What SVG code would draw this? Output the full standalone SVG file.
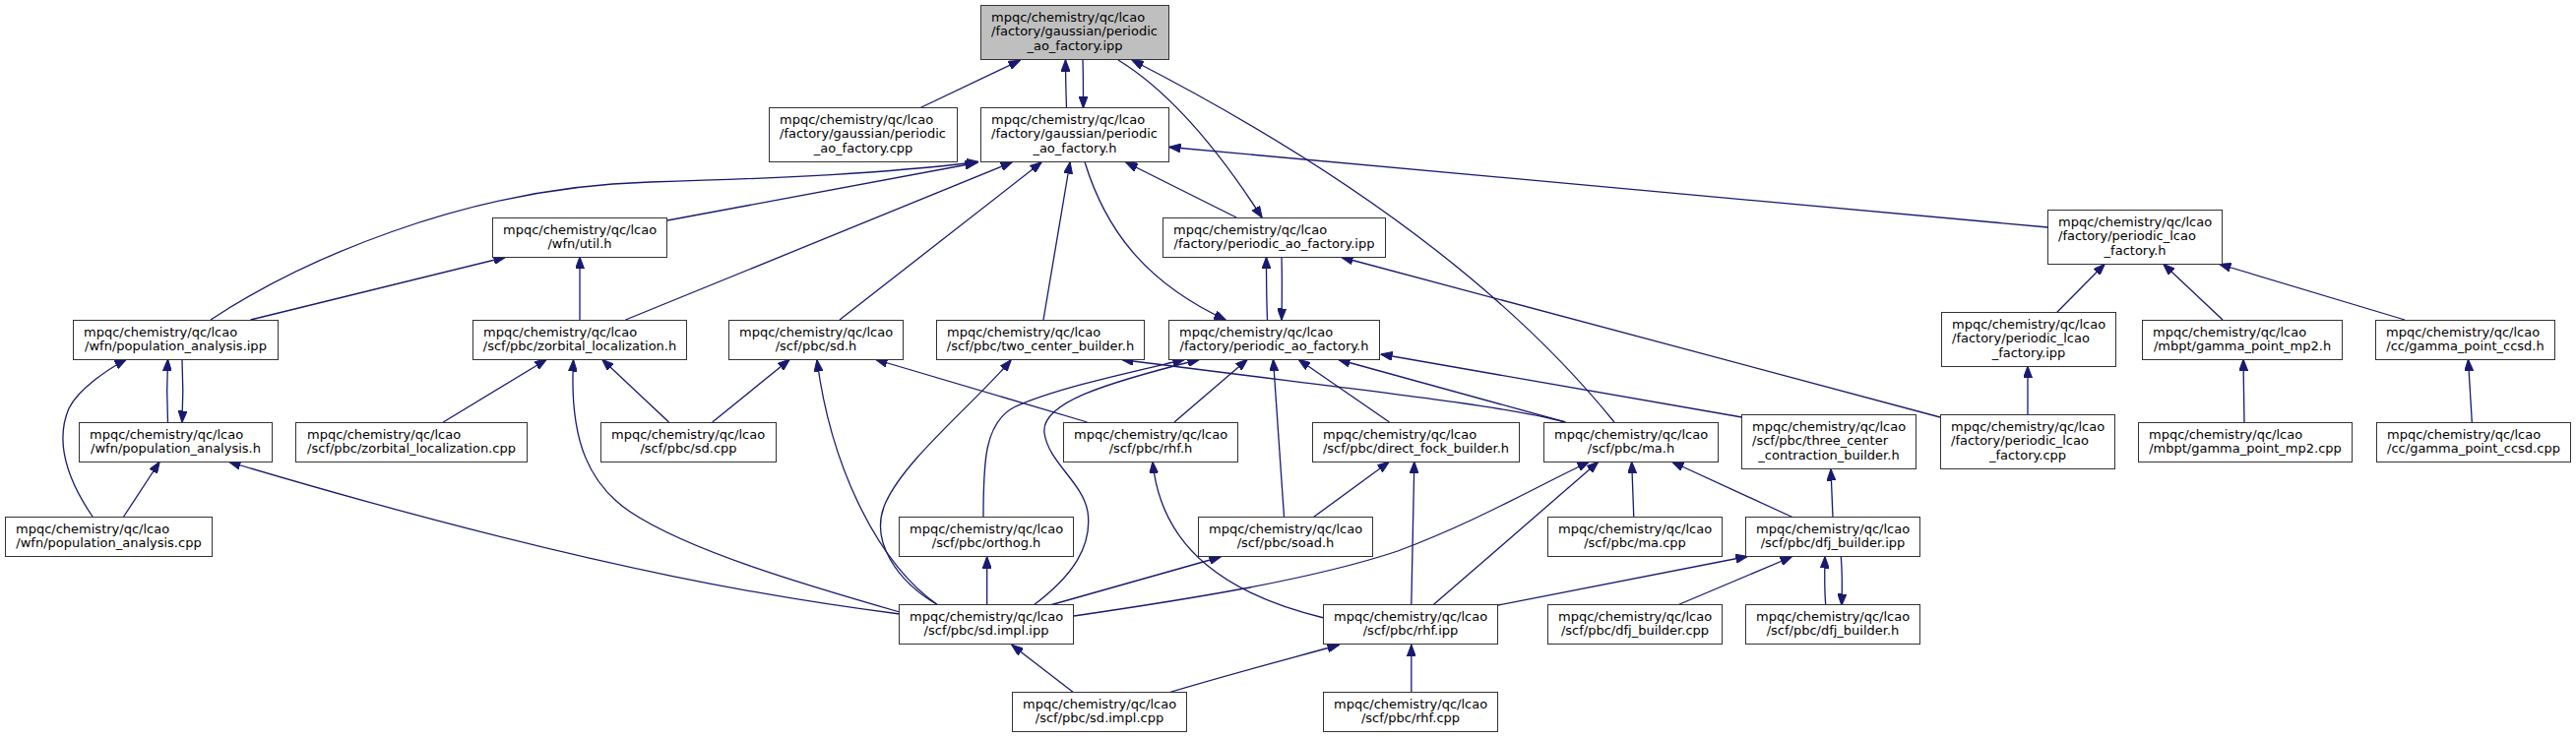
<svg xmlns="http://www.w3.org/2000/svg" width="2617" height="751" viewBox="0 0 2617 751">
<style>
.node rect{fill:#fff;stroke:#333;stroke-width:1}
.node.root rect{fill:#bfbfbf}
.node text{font-family:"DejaVu Sans",sans-serif;font-size:13px;fill:#000}
.node text.c{text-anchor:middle}
.edges path{fill:none;stroke:#191970;stroke-width:1.3;marker-end:url(#arr)}
</style>
<defs>
<marker id="arr" viewBox="0 0 12 9" markerWidth="12" markerHeight="9" refX="11.5" refY="4.5" orient="auto" markerUnits="userSpaceOnUse">
<path d="M0,0 L12,4.5 L0,9 z" fill="#191970" stroke="#191970" stroke-width="1"/>
</marker>
</defs>
<rect width="2617" height="751" fill="#fff"/>
<g class="edges" id="edges">
<path d="M934,110 L1036,61.5"/>
<path d="M1083.5,109.5 C1083,95 1082.5,80 1082.5,61"/>
<path d="M1100,61 C1100.5,75 1100.5,95 1100.5,109.5"/>
<path d="M1136,61 C1180,88 1230,140 1282,221"/>
<path d="M1640,429 C1560,330 1420,200 1150,61"/>
<path d="M1102,164.5 C1125,240 1170,290 1245,325"/>
<path d="M1256,221 L1144,165"/>
<path d="M2080.5,231 L1188,149.5"/>
<path d="M214,325 C300,268 470,190 660,185 C800,181 900,176 994,164.5"/>
<path d="M678,224 L992,165.5"/>
<path d="M635.5,325 L1028,165"/>
<path d="M853,325 L1058,165"/>
<path d="M1060,325 L1087,165"/>
<path d="M254.6,325 L513,261.5"/>
<path d="M589,325 L589,261.5"/>
<path d="M1287.5,325 C1286.5,300 1286.5,280 1286.5,261.5"/>
<path d="M1302,261.5 C1302.5,280 1302.5,300 1302,325"/>
<path d="M1971,424 L1363,261.5"/>
<path d="M2089.6,317.5 L2138,268.5"/>
<path d="M2258,325 L2198,268.5"/>
<path d="M2443,325 L2255,268.5"/>
<path d="M2060,421.5 L2060,372.5"/>
<path d="M2280,429 L2279,365.5"/>
<path d="M2511.3,429 L2507.5,365.5"/>
<path d="M953,615 C895,575 845,480 830,366"/>
<path d="M723.7,429 L802,365.5"/>
<path d="M679.5,429 L612,365.5"/>
<path d="M1104.5,429 L890,365.5"/>
<path d="M953,615 C910,590 885,550 898,515 C915,470 990,410 1027,366"/>
<path d="M914,624 C820,612 620,585 233,469.5"/>
<path d="M914,622 C820,595 700,560 640,520 C600,493 578,450 582.5,366"/>
<path d="M1091,704 L1028,655.5"/>
<path d="M1002.7,615 L1002.7,566"/>
<path d="M1066.7,615 L1240,566"/>
<path d="M999,526 C999,470 1000,430 1030,414 C1070,395 1150,378 1203,365.5"/>
<path d="M1050,615 C1090,585 1110,555 1105,520 C1100,490 1065,470 1061,440 C1057,410 1120,390 1218,365.5"/>
<path d="M1193,429 L1267,365.5"/>
<path d="M1304.5,525 L1293.5,365.5"/>
<path d="M1411.5,429 L1319.5,365.5"/>
<path d="M1590.4,429 L1360,365.5"/>
<path d="M1769.7,424 L1403,360"/>
<path d="M1590,429 C1520,410 1350,393 1140,365.5"/>
<path d="M1659.8,526 L1657.7,469.5"/>
<path d="M1822,526 L1699,469.5"/>
<path d="M1455.7,615 L1623.5,469.5"/>
<path d="M1091,626 C1200,610 1330,590 1420,560 C1500,530 1560,495 1614,469.5"/>
<path d="M1862,526 L1860,477"/>
<path d="M1521.8,615 L1775,565.5"/>
<path d="M1704,615 L1820,566"/>
<path d="M1854.7,615 C1853.5,600 1853.5,585 1854,566"/>
<path d="M1870.3,566 C1871.5,580 1871.5,600 1871,615"/>
<path d="M1333.7,526 L1411,469.5"/>
<path d="M1433.8,615 L1436.8,469.5"/>
<path d="M1433.8,704 L1433.8,655.5"/>
<path d="M1345,628 C1250,605 1180,560 1171,469.5"/>
<path d="M1186.6,704 C1250,685 1300,672 1360,655.5"/>
<path d="M450.3,429 L555,365.5"/>
<path d="M170.5,429 C169.5,410 169.5,385 170.5,365.5"/>
<path d="M185,365.5 C186,385 186,410 185,429"/>
<path d="M94.7,526 C70,490 55,450 70,415 C80,395 110,375 128,365.5"/>
<path d="M125,526 L162,469.5"/>
</g>
<g id="n_top" class="node root"><rect x="996.5" y="5.5" width="191" height="55"/><text x="1007" y="21.5">mpqc/chemistry/qc/lcao</text><text x="1007" y="36">/factory/gaussian/periodic</text><text class="c" x="1092" y="50.5">_ao_factory.ipp</text></g>
<g id="n_gcpp" class="node"><rect x="781.5" y="109.5" width="191" height="55"/><text x="792" y="125.5">mpqc/chemistry/qc/lcao</text><text x="792" y="140">/factory/gaussian/periodic</text><text class="c" x="877" y="154.5">_ao_factory.cpp</text></g>
<g id="n_gh" class="node"><rect x="996.5" y="109.5" width="191" height="55"/><text x="1007" y="125.5">mpqc/chemistry/qc/lcao</text><text x="1007" y="140">/factory/gaussian/periodic</text><text class="c" x="1092" y="154.5">_ao_factory.h</text></g>
<g id="n_util" class="node"><rect x="500.5" y="221.5" width="177" height="40"/><text x="511" y="237.5">mpqc/chemistry/qc/lcao</text><text class="c" x="589" y="252">/wfn/util.h</text></g>
<g id="n_pipp" class="node"><rect x="1181.5" y="221.5" width="226" height="40"/><text x="1192" y="237.5">mpqc/chemistry/qc/lcao</text><text class="c" x="1294.5" y="252">/factory/periodic_ao_factory.ipp</text></g>
<g id="n_lh" class="node"><rect x="2080.5" y="213.5" width="177" height="55"/><text x="2091" y="229.5">mpqc/chemistry/qc/lcao</text><text x="2091" y="244">/factory/periodic_lcao</text><text class="c" x="2169" y="258.5">_factory.h</text></g>
<g id="n_popipp" class="node"><rect x="74.5" y="325.5" width="208" height="40"/><text x="85" y="341.5">mpqc/chemistry/qc/lcao</text><text class="c" x="178.5" y="356">/wfn/population_analysis.ipp</text></g>
<g id="n_zorbh" class="node"><rect x="480.5" y="325.5" width="217" height="40"/><text x="491" y="341.5">mpqc/chemistry/qc/lcao</text><text class="c" x="589" y="356">/scf/pbc/zorbital_localization.h</text></g>
<g id="n_sdh" class="node"><rect x="740.5" y="325.5" width="177" height="40"/><text x="751" y="341.5">mpqc/chemistry/qc/lcao</text><text class="c" x="829" y="356">/scf/pbc/sd.h</text></g>
<g id="n_twoh" class="node"><rect x="951.5" y="325.5" width="211" height="40"/><text x="962" y="341.5">mpqc/chemistry/qc/lcao</text><text class="c" x="1057" y="356">/scf/pbc/two_center_builder.h</text></g>
<g id="n_ph" class="node"><rect x="1187.5" y="325.5" width="214" height="40"/><text x="1198" y="341.5">mpqc/chemistry/qc/lcao</text><text class="c" x="1294.5" y="356">/factory/periodic_ao_factory.h</text></g>
<g id="n_lipp" class="node"><rect x="1972.5" y="317.5" width="177" height="55"/><text x="1983" y="333.5">mpqc/chemistry/qc/lcao</text><text x="1983" y="348">/factory/periodic_lcao</text><text class="c" x="2061" y="362.5">_factory.ipp</text></g>
<g id="n_mp2h" class="node"><rect x="2176.5" y="325.5" width="203" height="40"/><text x="2187" y="341.5">mpqc/chemistry/qc/lcao</text><text class="c" x="2278" y="356">/mbpt/gamma_point_mp2.h</text></g>
<g id="n_ccsdh" class="node"><rect x="2413.5" y="325.5" width="182" height="40"/><text x="2424" y="341.5">mpqc/chemistry/qc/lcao</text><text class="c" x="2504.5" y="356">/cc/gamma_point_ccsd.h</text></g>
<g id="n_poph" class="node"><rect x="80.5" y="429.5" width="196" height="40"/><text x="91" y="445.5">mpqc/chemistry/qc/lcao</text><text class="c" x="178.5" y="460">/wfn/population_analysis.h</text></g>
<g id="n_zorbcpp" class="node"><rect x="300.5" y="429.5" width="235" height="40"/><text x="312" y="445.5">mpqc/chemistry/qc/lcao</text><text class="c" x="418" y="460">/scf/pbc/zorbital_localization.cpp</text></g>
<g id="n_sdcpp" class="node"><rect x="610.5" y="429.5" width="178" height="40"/><text x="621" y="445.5">mpqc/chemistry/qc/lcao</text><text class="c" x="699.5" y="460">/scf/pbc/sd.cpp</text></g>
<g id="n_rhfh" class="node"><rect x="1080.5" y="429.5" width="177" height="40"/><text x="1091" y="445.5">mpqc/chemistry/qc/lcao</text><text class="c" x="1169" y="460">/scf/pbc/rhf.h</text></g>
<g id="n_dfock" class="node"><rect x="1333.5" y="429.5" width="210" height="40"/><text x="1344" y="445.5">mpqc/chemistry/qc/lcao</text><text class="c" x="1438.5" y="460">/scf/pbc/direct_fock_builder.h</text></g>
<g id="n_mah" class="node"><rect x="1568.5" y="429.5" width="177" height="40"/><text x="1579" y="445.5">mpqc/chemistry/qc/lcao</text><text class="c" x="1657" y="460">/scf/pbc/ma.h</text></g>
<g id="n_three" class="node"><rect x="1769.5" y="421.5" width="177" height="55"/><text x="1780" y="437.5">mpqc/chemistry/qc/lcao</text><text x="1780" y="452">/scf/pbc/three_center</text><text class="c" x="1858" y="466.5">_contraction_builder.h</text></g>
<g id="n_lcpp" class="node"><rect x="1971.5" y="421.5" width="177" height="55"/><text x="1982" y="437.5">mpqc/chemistry/qc/lcao</text><text x="1982" y="452">/factory/periodic_lcao</text><text class="c" x="2060" y="466.5">_factory.cpp</text></g>
<g id="n_mp2cpp" class="node"><rect x="2172.5" y="429.5" width="217" height="40"/><text x="2183" y="445.5">mpqc/chemistry/qc/lcao</text><text class="c" x="2281" y="460">/mbpt/gamma_point_mp2.cpp</text></g>
<g id="n_ccsdcpp" class="node"><rect x="2414.5" y="429.5" width="197" height="40"/><text x="2425" y="445.5">mpqc/chemistry/qc/lcao</text><text class="c" x="2513" y="460">/cc/gamma_point_ccsd.cpp</text></g>
<g id="n_popcpp" class="node"><rect x="5.5" y="525.5" width="210" height="40"/><text x="16" y="541.5">mpqc/chemistry/qc/lcao</text><text class="c" x="110.5" y="556">/wfn/population_analysis.cpp</text></g>
<g id="n_orthog" class="node"><rect x="913.5" y="525.5" width="177" height="40"/><text x="924" y="541.5">mpqc/chemistry/qc/lcao</text><text class="c" x="1002" y="556">/scf/pbc/orthog.h</text></g>
<g id="n_soad" class="node"><rect x="1217.5" y="525.5" width="177" height="40"/><text x="1228" y="541.5">mpqc/chemistry/qc/lcao</text><text class="c" x="1306" y="556">/scf/pbc/soad.h</text></g>
<g id="n_macpp" class="node"><rect x="1572.5" y="525.5" width="177" height="40"/><text x="1583" y="541.5">mpqc/chemistry/qc/lcao</text><text class="c" x="1661" y="556">/scf/pbc/ma.cpp</text></g>
<g id="n_dfjipp" class="node"><rect x="1773.5" y="525.5" width="177" height="40"/><text x="1784" y="541.5">mpqc/chemistry/qc/lcao</text><text class="c" x="1862" y="556">/scf/pbc/dfj_builder.ipp</text></g>
<g id="n_sdimplipp" class="node"><rect x="913.5" y="614.5" width="177" height="40"/><text x="924" y="630.5">mpqc/chemistry/qc/lcao</text><text class="c" x="1002" y="645">/scf/pbc/sd.impl.ipp</text></g>
<g id="n_rhfipp" class="node"><rect x="1344.5" y="614.5" width="177" height="40"/><text x="1355" y="630.5">mpqc/chemistry/qc/lcao</text><text class="c" x="1433" y="645">/scf/pbc/rhf.ipp</text></g>
<g id="n_dfjcpp" class="node"><rect x="1572.5" y="614.5" width="177" height="40"/><text x="1583" y="630.5">mpqc/chemistry/qc/lcao</text><text class="c" x="1661" y="645">/scf/pbc/dfj_builder.cpp</text></g>
<g id="n_dfjh" class="node"><rect x="1773.5" y="614.5" width="177" height="40"/><text x="1784" y="630.5">mpqc/chemistry/qc/lcao</text><text class="c" x="1862" y="645">/scf/pbc/dfj_builder.h</text></g>
<g id="n_sdimplcpp" class="node"><rect x="1028.5" y="703.5" width="177" height="40"/><text x="1039" y="719.5">mpqc/chemistry/qc/lcao</text><text class="c" x="1117" y="734">/scf/pbc/sd.impl.cpp</text></g>
<g id="n_rhfcpp" class="node"><rect x="1344.5" y="703.5" width="177" height="40"/><text x="1355" y="719.5">mpqc/chemistry/qc/lcao</text><text class="c" x="1433" y="734">/scf/pbc/rhf.cpp</text></g>
</svg>
